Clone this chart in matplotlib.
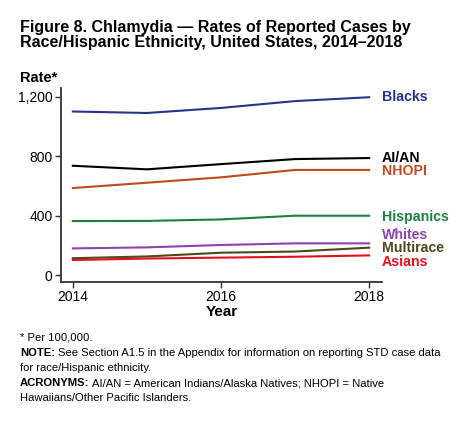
import matplotlib.pyplot as plt

plt.rcParams['font.family'] = ['Liberation Sans', 'DejaVu Sans']

# data (rate per 100,000)
years = [2014, 2015, 2016, 2017, 2018]
blacks = [1100, 1090, 1124, 1170, 1196]
aian = [735, 711, 746, 780, 787]
nhopi = [585, 621, 657, 707, 707]
hispanics = [363, 364, 374, 399, 399]
whites = [179, 186, 202, 213, 213]
multirace = [113, 125, 150, 158, 184]
asians = [101, 111, 117, 123, 132]

names = ["Blacks", "AI/AN", "NHOPI", "Hispanics", "Whites", "Multirace", "Asians"]
series = [blacks, aian, nhopi, hispanics, whites, multirace, asians]
colors = ["#27348b", "#000000", "#c04a1c", "#1e8040", "#8e44ad", "#4a4a1e", "#e3101c"]
# label heights (data units) so the labels don't overlap
label_y = [1198, 787, 700, 390, 269, 180, 86]

fig = plt.figure(figsize=(4.69, 4.26), dpi=100)
ax = fig.add_axes([0.130, 0.3387, 0.684, 0.454])

for vals, c in zip(series, colors):
    ax.plot(years, vals, color=c, lw=1.5)

for n, y, c in zip(names, label_y, colors):
    ax.text(2018.17, y, n, color=c, fontsize=10.2, fontweight='bold', va='center', ha='left')

ax.set_xlim(2013.84, 2018.17)
ax.set_ylim(-45, 1256)
ax.set_xticks([2014, 2016, 2018])
ax.set_yticks([0, 400, 800, 1200])
ax.set_yticklabels(["0", "400", "800", "1,200"])
ax.tick_params(labelsize=10, length=4, width=1, color="#333333", pad=2)
for s in ["top", "right"]:
    ax.spines[s].set_visible(False)
for s in ["left", "bottom"]:
    ax.spines[s].set_color("#333333")
    ax.spines[s].set_linewidth(1.3)

ax.set_xlabel("Year", fontsize=11, fontweight='bold', labelpad=1)

fig.text(20/469, 1-20/426,
         "Figure 8. Chlamydia \u2014 Rates of Reported Cases by\nRace/Hispanic Ethnicity, United States, 2014\u20132018",
         fontsize=11.5, fontweight='bold', va='top', ha='left', linespacing=1.0)
fig.text(20/469, 1-82/426, "Rate*", fontsize=10.5, fontweight='bold', va='baseline', ha='left')

# footnotes: bold lead-in followed by normal text
fs = 8.1
renderer = fig.canvas.get_renderer()


def note(y, bold, rest):
    x0 = 20/469
    if bold:
        t = fig.text(x0, 1-y/426, bold, fontsize=fs, fontweight='bold', va='baseline')
        bb = t.get_window_extent(renderer)
        x0 = (bb.x1 + 3) / fig.bbox.width
    fig.text(x0, 1-y/426, rest, fontsize=fs, va='baseline')


note(341, None, "* Per 100,000.")
note(356, "NOTE:", "See Section A1.5 in the Appendix for information on reporting STD case data")
note(371, None, "for race/Hispanic ethnicity.")
note(386, "ACRONYMS:", "AI/AN = American Indians/Alaska Natives; NHOPI = Native")
note(401, None, "Hawaiians/Other Pacific Islanders.")

fig.savefig("out.png", dpi=100)
